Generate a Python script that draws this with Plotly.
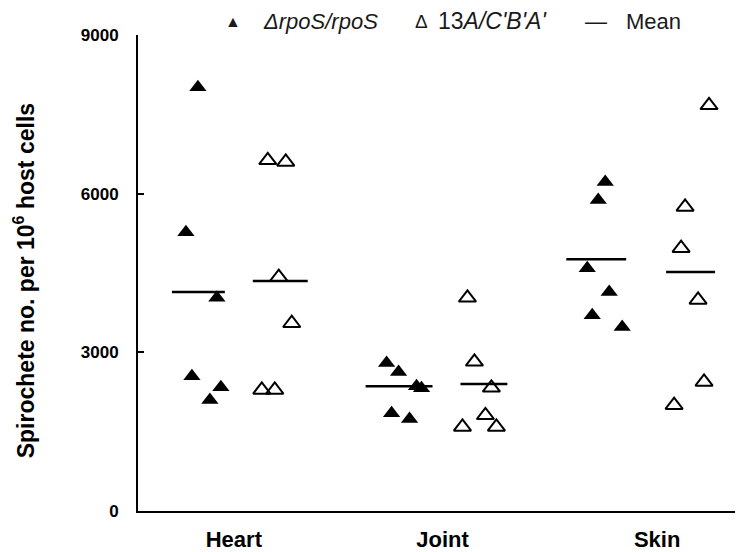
import plotly.graph_objects as go

# tissue categories and where their labels sit on the x axis
categories = ["Heart", "Joint", "Skin"]
category_x = [0.96, 3.05, 5.2]
y_ticks = [0, 3000, 6000, 9000]

# spirochete counts per 10^6 host cells, six mice per tissue
rpos_x = [0.60, 0.48, 0.79, 0.54, 0.83, 0.72,
          2.49, 2.61, 2.79, 2.84, 2.54, 2.72,
          4.68, 4.61, 4.50, 4.72, 4.55, 4.85]
rpos_y = [8010, 5270, 4030, 2550, 2340, 2100,
          2800, 2630, 2360, 2320, 1850, 1740,
          6220, 5880, 4590, 4140, 3700, 3480]

comp_x = [1.30, 1.48, 1.41, 1.54, 1.24, 1.37,
          3.30, 3.37, 3.54, 3.48, 3.25, 3.59,
          5.72, 5.48, 5.44, 5.61, 5.67, 5.37]
comp_y = [6630, 6600, 4420, 3550, 2290, 2290,
          4030, 2820, 2330, 1810, 1590, 1590,
          7670, 5750, 4970, 3990, 2440, 2000]

# group means (filled, open for each tissue) and the span of each bar
mean_y = [4140, 4350, 2360, 2400, 4760, 4520]
mean_start = [0.34, 1.15, 2.28, 3.23, 4.29, 5.29]
mean_end = [0.87, 1.70, 2.95, 3.70, 4.89, 5.78]

line_x, line_y = [], []
for m, a, b in zip(mean_y, mean_start, mean_end):
    line_x += [a, b, None]
    line_y += [m, m, None]

FONT = "Liberation Sans, Arial, sans-serif"

fig = go.Figure()
fig.add_trace(go.Scatter(
    x=rpos_x, y=rpos_y, mode="markers", name="\u0394rpoS/rpoS",
    marker=dict(symbol="triangle-up", size=15, color="black"),
))
fig.add_trace(go.Scatter(
    x=comp_x, y=comp_y, mode="markers", name="13A/C'B'A'",
    marker=dict(symbol="triangle-up-open", size=15, color="black",
                line=dict(width=2, color="black")),
))
fig.add_trace(go.Scatter(
    x=line_x, y=line_y, mode="lines", name="Mean",
    line=dict(color="black", width=2.5),
))

# legend row along the top, written as annotations (paper x: 0 = y axis)
legend_items = [
    ("\u25B2", 0.158, "center", 16),
    ("<i>\u0394rpoS/rpoS</i>", 0.205, "left", 22),
    ("\u0394", 0.474, "center", 19),
    ("13<i>A/C'B'A'</i>", 0.497, "left", 23),
    ("\u2014", 0.765, "center", 22),
    ("Mean", 0.812, "left", 22),
]
for text, x, anchor, size in legend_items:
    fig.add_annotation(
        text=text, x=x, y=1.029, xref="paper", yref="paper",
        xanchor=anchor, yanchor="middle", showarrow=False,
        font=dict(size=size, color="#1a1a1a", family=FONT),
    )

# y axis title
fig.add_annotation(
    text="<b>Spirochete no. per 10<sup>6</sup> host cells</b>",
    x=-0.19, y=0.483, xref="paper", yref="paper", textangle=-90,
    xanchor="center", yanchor="middle", showarrow=False,
    font=dict(size=23, color="black", family=FONT),
)

# the page body adds an 8px offset, so margins are trimmed to suit
fig.update_layout(
    width=743, height=552,
    margin=dict(l=130, r=14, t=27, b=49),
    paper_bgcolor="white", plot_bgcolor="white",
    font=dict(family=FONT, color="black"),
    showlegend=False,
)
fig.update_xaxes(
    range=[0, 6], tickvals=category_x,
    ticktext=["<b>%s</b>" % c for c in categories],
    showline=True, linecolor="black", linewidth=2, ticks="",
    showgrid=False, zeroline=False, ticklabelstandoff=8,
    automargin=False, tickfont=dict(size=22, family=FONT),
)
fig.update_yaxes(
    range=[0, 9000], tickvals=y_ticks,
    ticktext=["<b>%d</b>" % v for v in y_ticks],
    showline=True, linecolor="black", linewidth=2,
    ticks="inside", ticklen=6, tickwidth=2, tickcolor="black",
    showgrid=False, zeroline=False, ticklabelstandoff=14,
    automargin=False, tickfont=dict(size=17, family=FONT),
)

fig.write_html("out.html")
